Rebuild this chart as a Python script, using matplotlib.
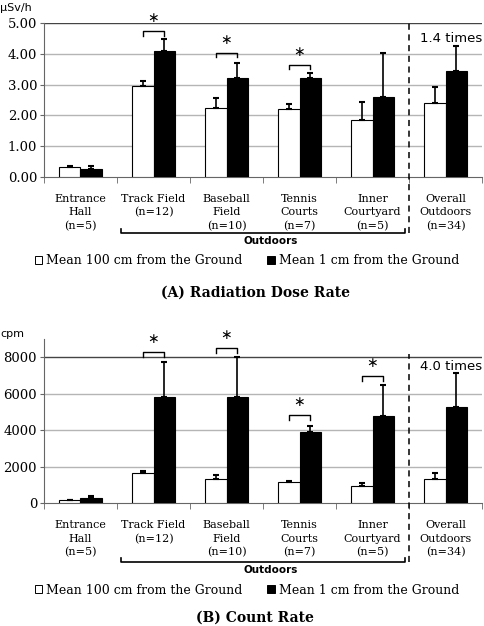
import numpy as np
from matplotlib import pyplot as plt
from matplotlib.patches import Patch

categories = ["Entrance\nHall\n(n=5)", "Track Field\n(n=12)", "Baseball\nField\n(n=10)",
              "Tennis\nCourts\n(n=7)", "Inner\nCourtyard\n(n=5)", "Overall\nOutdoors\n(n=34)"]

# (A) radiation dose rate, uSv/h
dose_100 = [0.33, 2.95, 2.23, 2.20, 1.84, 2.41]
dose_100_sd = [0.03, 0.17, 0.33, 0.16, 0.58, 0.50]
dose_1 = [0.27, 4.10, 3.21, 3.21, 2.59, 3.44]
dose_1_sd = [0.10, 0.37, 0.48, 0.16, 1.43, 0.81]

# (B) count rate, cpm
cnt_100 = [180, 1640, 1315, 1170, 950, 1350]
cnt_100_sd = [20, 130, 255, 50, 180, 290]
cnt_1 = [270, 5825, 5825, 3900, 4765, 5260]
cnt_1_sd = [130, 1935, 2205, 350, 1715, 1900]

# significance brackets: (category, bracket height)
sig_a = [(1, 4.74), (2, 4.03), (3, 3.64)]
sig_b = [(1, 8290), (2, 8510), (3, 4840), (4, 6975)]

SERIF = "DejaVu Serif"


def draw_panel(ax, w100, s100, w1, s1, ticks, ylim, fmt, unit, unit_y, sigs, ratio_text, ratio_y,
               line_top, bot_frac):
	x = np.arange(len(categories))
	bw = 0.29
	ax.bar(x - bw / 2, w100, bw, color="white", edgecolor="black", linewidth=0.8, zorder=3)
	ax.bar(x + bw / 2, w1, bw, color="black", edgecolor="black", linewidth=0.8, zorder=3)
	ax.errorbar(x - bw / 2, w100, yerr=[np.zeros(len(x)), s100], fmt="none", ecolor="black",
	            elinewidth=1.2, capsize=2.5, capthick=1.5, zorder=4)
	ax.errorbar(x + bw / 2, w1, yerr=[np.zeros(len(x)), s1], fmt="none", ecolor="black",
	            elinewidth=1.2, capsize=2.5, capthick=1.5, zorder=4)

	ax.set_xlim(-0.5, 5.5)
	ax.set_ylim(*ylim)
	ax.set_yticks(ticks)
	ax.set_yticklabels([fmt.format(t) for t in ticks], fontsize=9.5, family=SERIF)
	for t in ticks[1:-1]:
		ax.axhline(t, color="#b5b5b5", lw=1, zorder=1)
	ax.axhline(ticks[-1], color="#444444", lw=1, zorder=1)

	ax.set_xticks(x)
	ax.set_xticklabels(categories, fontsize=8, family=SERIF, linespacing=1.45)
	ax.set_xticks(np.arange(-0.5, 6.0, 1.0), minor=True)
	ax.tick_params(axis="x", which="major", length=0, pad=12)
	ax.tick_params(axis="x", which="minor", length=4, color="#666666")
	ax.tick_params(axis="y", length=3, color="#666666", pad=2)
	for s in ["top", "right"]:
		ax.spines[s].set_visible(False)
	ax.spines["left"].set_color("#666666")
	ax.spines["bottom"].set_color("#666666")

	ax.text(-0.1, unit_y, unit, transform=ax.transAxes, fontsize=8, va="center", ha="left")

	# significance brackets
	h = (ylim[1] - ylim[0]) * 0.03
	for i, yb in sigs:
		ax.plot([i - 0.15, i - 0.15, i + 0.15, i + 0.15], [yb - h, yb, yb, yb - h],
		        color="black", lw=1, clip_on=False, zorder=5)
		ax.text(i, yb + h * 1.2, "\u2217", ha="center", va="bottom", fontsize=10, clip_on=False)

	ax.text(5.5, ratio_y, ratio_text, ha="right", va="center", fontsize=9.5)

	# dashed separator and Outdoors bracket
	trans = ax.get_xaxis_transform()
	ax.plot([4.5, 4.5], [bot_frac, line_top], ls=(0, (4, 3)), color="black", lw=1.1,
	        transform=trans, clip_on=False, zorder=5)
	ax.plot([0.56, 0.56, 4.45, 4.45], [bot_frac + 0.025, bot_frac, bot_frac, bot_frac + 0.025],
	        color="black", lw=1.2, transform=trans, clip_on=False)
	ax.text(2.6, bot_frac - 0.02, "Outdoors", transform=trans, ha="center", va="top",
	        fontsize=7.5, fontweight="bold")


def main():
	fig = plt.figure(figsize=(4.84, 6.26), dpi=100)

	ax1 = fig.add_axes([0.0909, 0.7173, 0.905, 0.246])
	draw_panel(ax1, dose_100, dose_100_sd, dose_1, dose_1_sd, [0, 1, 2, 3, 4, 5], (0, 5),
	           "{:.2f}", "\u00b5Sv/h", 1.1, sig_a, "1.4 times", 4.51, 1.0, -0.364)

	ax2 = fig.add_axes([0.0909, 0.196, 0.905, 0.2625])
	draw_panel(ax2, cnt_100, cnt_100_sd, cnt_1, cnt_1_sd, [0, 2000, 4000, 6000, 8000], (0, 9000),
	           "{:d}", "cpm", 1.03, sig_b, "4.0 times", 7520, 0.91, -0.357)

	handles = [Patch(facecolor="white", edgecolor="black", linewidth=0.7),
	           Patch(facecolor="black", edgecolor="black", linewidth=0.7)]
	labels = ["Mean 100 cm from the Ground", "Mean 1 cm from the Ground"]
	for yl in [1 - 261 / 626, 1 - 590 / 626]:
		fig.legend(handles, labels, loc="center", bbox_to_anchor=(0.51, yl), ncol=2,
		           frameon=False, handlelength=0.6, handleheight=0.6, handletextpad=0.3,
		           columnspacing=2.0, prop={"family": SERIF, "size": 9})

	fig.text(0.527, 1 - 293 / 626, "(A) Radiation Dose Rate", ha="center", va="center",
	         fontsize=10, family=SERIF, fontweight="bold")
	fig.text(0.527, 1 - 618 / 626, "(B) Count Rate", ha="center", va="center",
	         fontsize=10, family=SERIF, fontweight="bold")

	fig.savefig("out.png", dpi=100)


if __name__ == '__main__':
	main()
